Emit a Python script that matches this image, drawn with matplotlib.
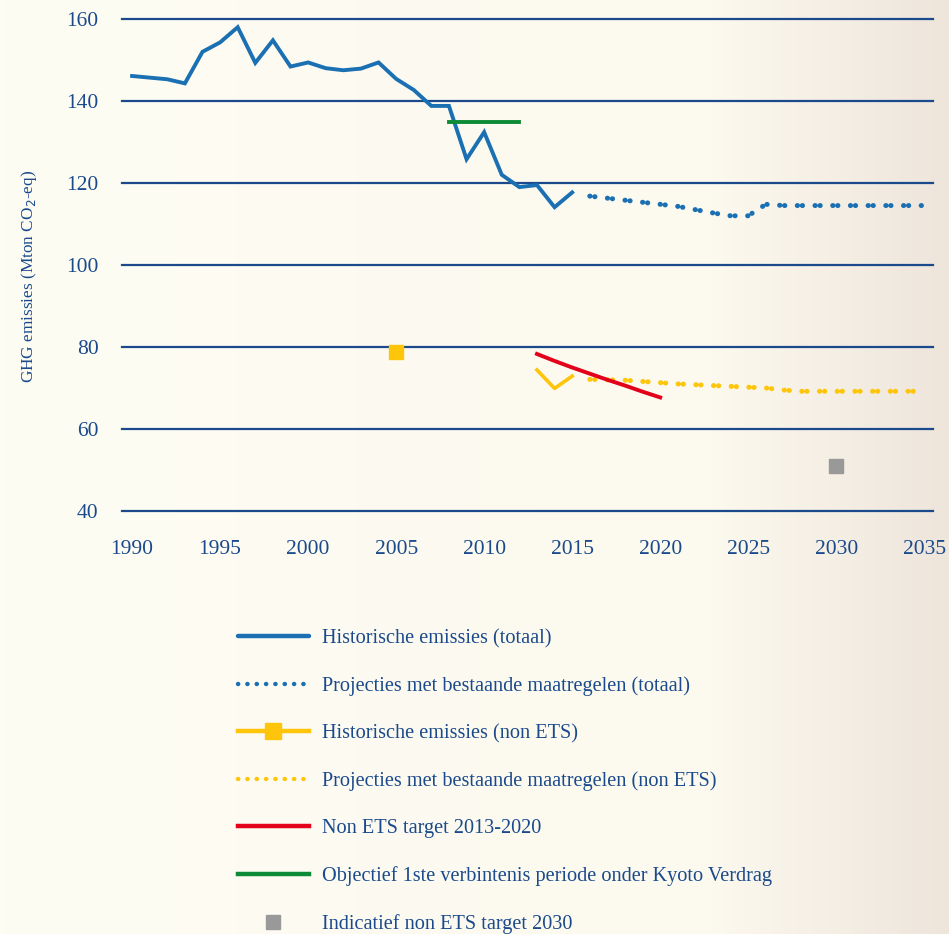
import matplotlib.pyplot as plt
import numpy as np
from matplotlib.lines import Line2D
from matplotlib.colors import LinearSegmentedColormap

# historic total emissions
hist_years = list(range(1990, 2016))
hist_total = [146.1, 145.7, 145.3, 144.3, 152.0, 154.3, 158.0, 149.3, 154.8, 148.4,
              149.4, 148.0, 147.5, 147.9, 149.4, 145.4, 142.7, 138.8, 138.8, 125.8,
              132.4, 122.0, 119.0, 119.5, 114.1, 117.7]

# projections total
proj_years = list(range(2016, 2036))
proj_total = [116.8, 116.3, 115.8, 115.3, 114.8, 114.3, 113.5, 112.7, 112.0, 112.0,
              114.8, 114.5, 114.5, 114.5, 114.5, 114.5, 114.5, 114.5, 114.5, 114.5]

# non ETS
nonets_2005_year = [2005]
nonets_2005 = [78.8]
nonets_years = [2013, 2014, 2015]
nonets_hist = [74.4, 69.9, 72.9]
nonets_proj = [72.1, 72.0, 71.9, 71.6, 71.3, 71.0, 70.8, 70.6, 70.4, 70.2,
               70.0, 69.5, 69.2, 69.2, 69.2, 69.2, 69.2, 69.2, 69.2, 69.2]

# non ETS target 2013-2020
target_years = list(range(2013, 2021))
target_vals = [78.3, 76.6, 75.0, 73.5, 72.0, 70.6, 69.1, 67.7]

# kyoto objective
kyoto_years = [2008, 2009, 2010, 2011, 2012]
kyoto_vals = [134.8] * 5

# indicative 2030
ind_year = [2030]
ind_val = [51]

yticks = [40, 60, 80, 100, 120, 140, 160]
xticks = list(range(1990, 2036, 5))

labels = ['Historische emissies (totaal)',
          'Projecties met bestaande maatregelen (totaal)',
          'Historische emissies (non ETS)',
          'Projecties met bestaande maatregelen (non ETS)',
          'Non ETS target 2013-2020',
          'Objectief 1ste verbintenis periode onder Kyoto Verdrag',
          'Indicatief non ETS target 2030']

BLUE = '#1a70b2'
YELLOW = '#ffc50a'
RED = '#e2001a'
GREEN = '#0d8a36'
GREY = '#999999'
NAVY = '#1a4a8c'

plt.rcParams['font.family'] = ['Liberation Serif', 'DejaVu Serif']

fig = plt.figure(figsize=(9.49, 9.34), dpi=100)

# background gradient
bg = fig.add_axes([0, 0, 1, 1], zorder=-10)
cmap = LinearSegmentedColormap.from_list('bg', [(0, '#fefdf4'), (0.75, '#fcf9ee'), (1, '#eee5db')])
bg.imshow(np.linspace(0, 1, 256).reshape(1, -1), cmap=cmap, aspect='auto', extent=[0, 1, 0, 1])
bg.axis('off')

ax = fig.add_axes([0.1286, 1 - 511 / 934, 0.8546, 492 / 934])
ax.patch.set_alpha(0)
ax.set_xlim(1989.43, 2035.5)
ax.set_ylim(40, 160)
for s in ax.spines.values():
    s.set_visible(False)
for v in yticks:
    ax.axhline(v, color=NAVY, lw=1.6, clip_on=False, zorder=1)

ax.set_yticks(yticks)
ax.set_xticks(xticks)
ax.tick_params(length=0, labelsize=15.5, labelcolor=NAVY)
ax.tick_params(axis='x', pad=21)
ax.tick_params(axis='y', pad=17)
ax.set_ylabel('GHG emissies (Mton CO$_2$-eq)', fontsize=12.4, color=NAVY)
ax.yaxis.set_label_coords(-0.102, 0.476)

DOTS = (0.05, 0.95, 0.05, 2.49)
ax.plot(hist_years, hist_total, color=BLUE, lw=2.8, solid_joinstyle='miter', zorder=3)
ax.plot(proj_years, proj_total, color=BLUE, lw=3.6, dash_capstyle='round',
        dashes=DOTS, zorder=3)
ax.plot(kyoto_years, kyoto_vals, color=GREEN, lw=2.8, zorder=4)
ax.plot(nonets_2005_year, nonets_2005, 's', color=YELLOW, ms=9.5, zorder=4)
ax.plot(nonets_years, nonets_hist, color=YELLOW, lw=2.6, zorder=3)
ax.plot(proj_years, nonets_proj, color=YELLOW, lw=3.6, dash_capstyle='round',
        dashes=DOTS, zorder=3)
ax.plot(target_years, target_vals, color=RED, lw=2.8, zorder=4)
ax.plot(ind_year, ind_val, 's', color=GREY, ms=9.5, zorder=4)

handles = [
    Line2D([], [], color=BLUE, lw=3.2, solid_capstyle='round'),
    Line2D([], [], color=BLUE, lw=3.2, dash_capstyle='round', dashes=(0.05, 2.05)),
    Line2D([], [], color=YELLOW, lw=3.2, marker='s', ms=11),
    Line2D([], [], color=YELLOW, lw=3.2, dash_capstyle='round', dashes=(0.05, 2.05)),
    Line2D([], [], color=RED, lw=3.2),
    Line2D([], [], color=GREEN, lw=3.2),
    Line2D([], [], color=GREY, lw=0, marker='s', ms=10),
]
leg = fig.legend(handles, labels, loc='upper left', bbox_to_anchor=(238 / 949, 1 - 629 / 934),
                 frameon=False, fontsize=14.6, labelcolor=NAVY, handlelength=3.5,
                 handletextpad=0.62, labelspacing=1.38, borderpad=0, borderaxespad=0,
                 markerfirst=True)

fig.savefig('out.png', dpi=100)
